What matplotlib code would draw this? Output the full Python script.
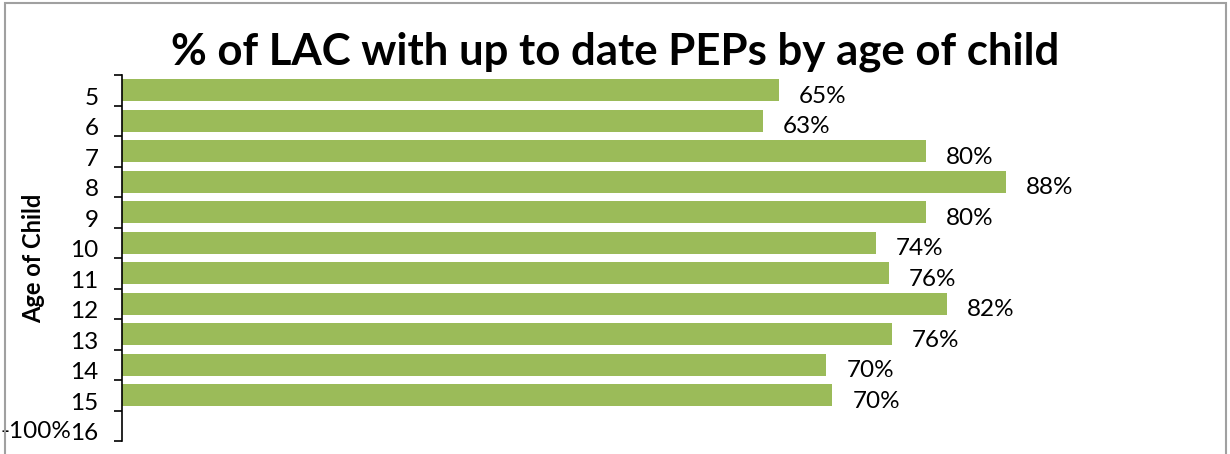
import numpy as np
import matplotlib.pyplot as plt
import matplotlib.transforms as mtransforms

# --- dados ---
ages = ['5', '6', '7', '8', '9', '10', '11', '12', '13', '14', '15', '16']
pct_up_to_date = [65.4, 63.8, 80.0, 88.0, 80.0, 75.0, 76.3, 82.1, 76.6, 70.1, 70.7, np.nan]
# rótulos tal como aparecem no gráfico
pct_labels = ['65%', '63%', '80%', '88%', '80%', '74%', '76%', '82%', '76%', '70%', '70%', '']
title = "% of LAC with up to date PEPs by age of child"
bar_color = '#9BBB59'

plt.rcParams['font.family'] = ['Lato', 'DejaVu Sans']

fig = plt.figure(figsize=(12.3, 4.54), dpi=100)
ax = fig.add_axes([0.0992, 0.0286, 0.817, 0.806])

y = np.arange(len(ages))
vals = np.array(pct_up_to_date, dtype=float)
ax.barh(y, np.nan_to_num(vals), height=0.72, color=bar_color)

# rótulos de dados
off = mtransforms.ScaledTranslation(20 / 100, -6 / 100, fig.dpi_scale_trans)
for yi, v, lab in zip(y, vals, pct_labels):
    if np.isnan(v):
        continue
    ax.text(v, yi, lab, ha='left', va='center', fontsize=17.5,
            transform=ax.transData + off)

ax.set_xlim(0, 100)
ax.set_ylim(len(ages) - 0.5, -0.5)

# ticks nas fronteiras, rótulos no centro
ax.set_yticks(np.arange(-0.5, len(ages), 1.0))
ax.set_yticklabels([])
ax.set_yticks(y, minor=True)
ax.set_yticklabels(ages, minor=True, fontsize=17.5)
ax.tick_params(axis='y', which='major', length=6, width=1.2, direction='out')
ax.tick_params(axis='y', which='minor', length=0, pad=17)
lab_off = mtransforms.ScaledTranslation(0, -6 / 100, fig.dpi_scale_trans)
for lbl in ax.get_yticklabels(minor=True):
    lbl.set_transform(lbl.get_transform() + lab_off)

ax.set_xticks([])
for s in ['top', 'right', 'bottom']:
    ax.spines[s].set_visible(False)
ax.spines['left'].set_linewidth(1.2)

ax.set_ylabel("Age of Child", fontsize=17, fontweight='bold')
ax.yaxis.set_label_coords(-0.0765, 0.5)

# artefacto do eixo x do Excel
blend = mtransforms.blended_transform_factory(ax.transAxes, ax.transData)
ax.text(-0.0507, len(ages) - 1, "-100%", fontsize=17.5, ha='right', va='center',
        transform=blend + lab_off)

fig.suptitle(title, fontsize=31.5, fontweight='bold', y=0.93)

# moldura da área do gráfico
fig.patches.append(plt.Rectangle((0.004, -0.01), 0.993, 1.003, transform=fig.transFigure,
                                 fill=False, edgecolor='#A0A0A0', linewidth=1.5))

fig.savefig('out.png', dpi=100)
